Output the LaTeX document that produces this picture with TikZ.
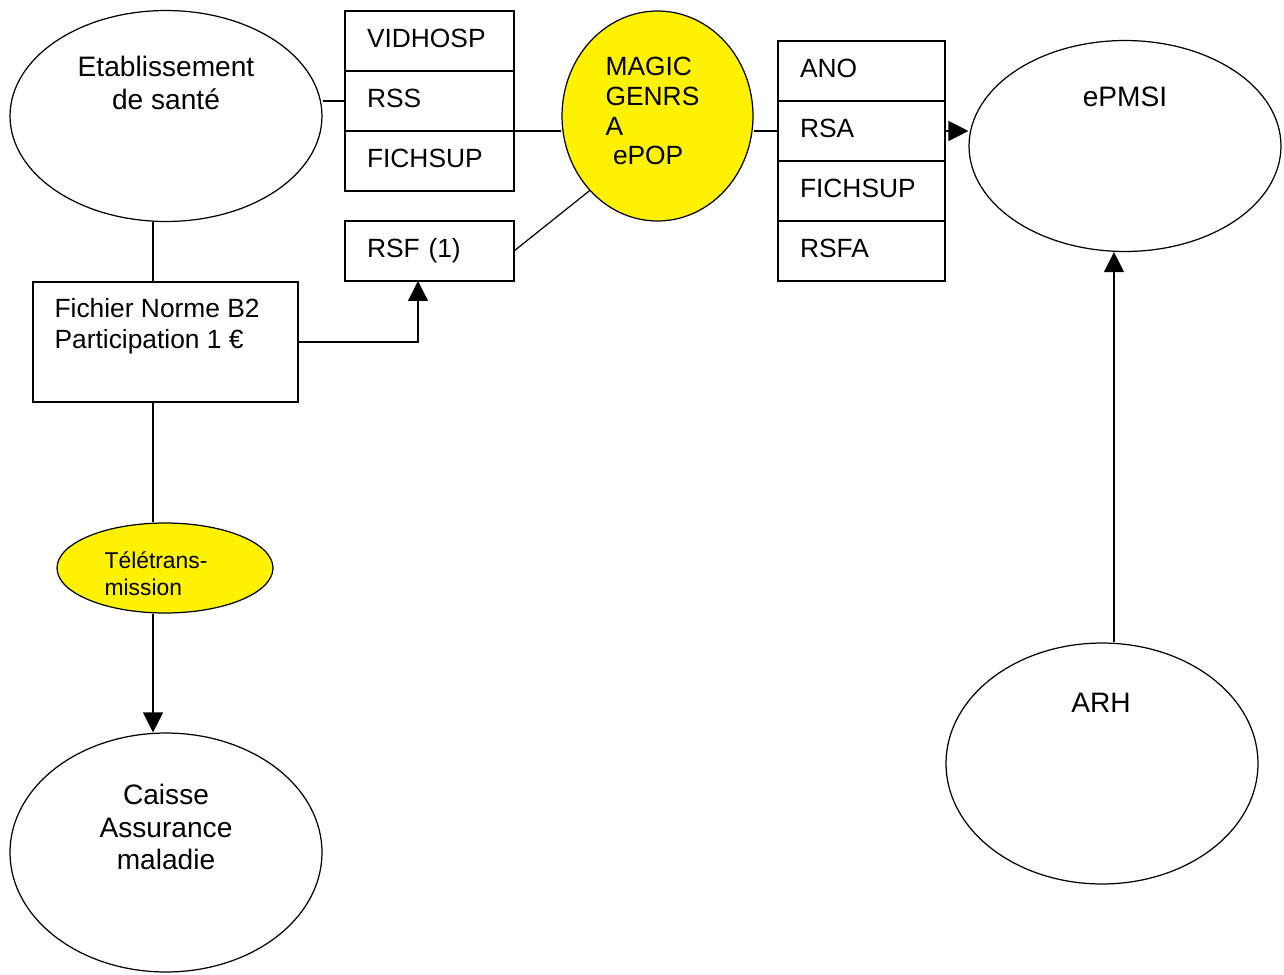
\documentclass[tikz,border=0pt]{standalone}
\usepackage{fontspec}
\setmainfont{Liberation Sans}
\usetikzlibrary{arrows.meta, positioning, shapes.geometric}

\begin{document}
\begin{tikzpicture}[x=0.02cm, y=-0.02cm, line width=0.7pt,
  ell/.style={draw, ellipse, inner sep=0pt, minimum width=6.24cm, minimum height=4.22cm},
  rec/.style={draw, outer sep=0pt, minimum height=1.2cm, text width=2.5cm, inner xsep=0.44cm, align=left, font=\fontsize{15}{18}\selectfont, text depth=0.34em},
  big/.style={font=\fontsize{16}{18.4}\selectfont, align=center, inner sep=0pt},
  lefttxt/.style={anchor=west, align=left, inner sep=0pt},
  arr/.style={-{Triangle[length=0.4cm,width=0.4cm]}}]
\useasboundingbox (0,0) rectangle (1284,974);
\node[ell] (etab) at (166,116) {};
\node[big] (etabtxt) at (166,83) {Etablissement\\de santé};
\node[rec] (vidhosp) at (429.5,41) {VIDHOSP};
\node[rec, below=0pt of vidhosp] (rss) {RSS};
\node[rec, below=0pt of rss] (fichsup) {FICHSUP};
\node[rec] (rsf) at (429.5,251) {RSF (1)};
\node[draw, minimum width=5.3cm, minimum height=2.4cm] (b2) at (165.5,342) {};
\node[lefttxt, font=\fontsize{15}{18}\selectfont] (b2txt) at (54,326) {Fichier Norme B2\\Participation 1 €};
\node[ell, fill=yellow, minimum width=4.32cm, minimum height=1.8cm] (tele) at (165,568) {};
\node[lefttxt, font=\fontsize{13}{15.3}\selectfont] (teletxt) at (104,574) {Télétrans-\\mission};
\node[ell, minimum height=4.78cm] (caisse) at (166,852.5) {};
\node[big] (caissetxt) at (166,827) {Caisse\\Assurance\\maladie};
\node[ell, fill=yellow, minimum width=3.82cm, minimum height=4.2cm] (magic) at (657.5,116) {};
\node[lefttxt, font=\fontsize{15}{17}\selectfont] (magictxt) at (605,111) {MAGIC\\GENRS\\A\\\hspace*{.28em}ePOP};
\node[rec, text width=2.46cm] (ano) at (861.5,71) {ANO};
\node[rec, text width=2.46cm, below=0pt of ano] (rsa) {RSA};
\node[rec, text width=2.46cm, below=0pt of rsa] (fichsupa) {FICHSUP};
\node[rec, text width=2.46cm, below=0pt of fichsupa] (rsfa) {RSFA};
\node[ell] (epmsi) at (1125,146) {};
\node[big] (epmsitxt) at (1125,97) {ePMSI};
\node[ell, minimum height=4.82cm] (arh) at (1102,763.5) {};
\node[big] (arhtxt) at (1101,703) {ARH};
% liens
\draw (rss.west) -- (etab.east |- rss.west);
\draw (rss.south east) -- (magic.west |- rss.south east);
\draw (magic.east |- rsa.west) -- (rsa.west);
\draw (rsf.east) -- (magic.south west);
\draw[arr] (rsa.east) -- (epmsi.west |- rsa.east);
\draw ([xshift=-0.25cm]b2.north) -- ([xshift=-0.25cm]b2.north |- etab.south);
\draw ([xshift=-0.25cm]b2.south) -- ([xshift=-0.25cm]b2.south |- tele.north);
\draw[arr] ([xshift=-0.24cm]tele.south) -- ([xshift=-0.24cm]tele.south |- caisse.north);
\draw[arr] (b2.east) -| ([xshift=-0.23cm]rsf.south);
\draw[arr] ([xshift=0.24cm]arh.north) -- ([xshift=0.24cm]arh.north |- epmsi.south);
\end{tikzpicture}
\end{document}
